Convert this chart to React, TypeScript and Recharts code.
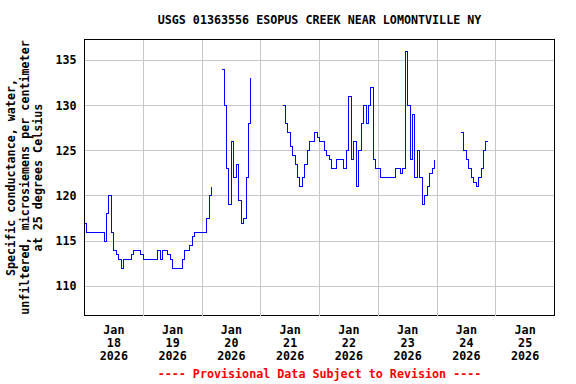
import React from "react";
import {
  LineChart,
  Line,
  XAxis,
  YAxis,
  CartesianGrid,
  ReferenceLine,
  ReferenceArea,
} from "recharts";

const title = "USGS 01363556 ESOPUS CREEK NEAR LOMONTVILLE NY";
const footnote = "---- Provisional Data Subject to Revision ----";
const yLabelLines = [
  "Specific conductance, water,",
  "unfiltered, microsiemens per centimeter",
  "at 25 degrees Celsius",
];
const monthLabel = "Jan";
const yearLabel = "2026";
const dayLabels = ["18", "19", "20", "21", "22", "23", "24", "25"];
const yTicks = [110, 115, 120, 125, 130, 135];
const yDomain: [number, number] = [106.77, 137.3];

// hourly readings, microsiemens/cm (null = no data)
const jan18 = [117, 116, 116, 116, 116, 116, 116, 116, 115, 118, 120, 116, 114, 113.5, 113, 112, 113, 113, 113, 113.5, 114, 114, 114, 113.5];
const jan19 = [113, 113, 113, 113, 113, 113, 114, 113, 114, 114, 113.5, 113, 112, 112, 112, 112, 113, 114, 114, 114.5, 115.5, 116, 116, 116];
const jan20 = [116, 116, 117.5, 120, 121, null, null, null, 134, 130, 123, 119, 126, 122, 123.5, 119.5, 117, 117.5, 122, 128, 133, null, null, null];
const jan21 = [null, null, null, null, null, null, null, null, null, 130, 128, 127, 125.5, 124.5, 123.5, 122, 121, 122, 123.5, 125, 126, 126, 127, 126.5];
const jan22 = [126, 126, 125, 124.5, 124, 123, 123, 124, 124, 124, 123, 125, 131, 124, 126, 121, 125, 128, 130, 128, 130, 132, 124, 123];
const jan23 = [123, 122, 122, 122, 122, 122, 122, 123, 123, 122.5, 123, 136, 130, 124, 129, 122, 125, 122, 119, 120, 121, 122.5, 123, 124];
const jan24 = [null, null, null, null, null, null, null, null, null, null, 127, 125, 124, 123, 122, 121.5, 121, 122, 123, 125, 126, 126, null, null];
const jan25 = [null, null, null, null, null, null, null, null, null, null, null, null, null, null, null, null, null, null, null, null, null, null, null, null];

const days = [jan18, jan19, jan20, jan21, jan22, jan23, jan24, jan25];

const data = days.flatMap((vals, d) => vals.map((v, h) => ({ hour: d * 24 + h, value: v })));
data.push({ hour: days.length * 24, value: null });

const midnights = days.slice(1).map((_, i) => (i + 1) * 24);
const noonTicks = dayLabels.map((_, i) => i * 24 + 12);

const font = "'DejaVu Sans Mono', monospace";
const fontSize = 11.7;

const XTick = (props: any) => {
  const { x, y, payload } = props;
  const i = Math.round((payload.value - 12) / 24);
  const common = { textAnchor: "middle" as const, fontFamily: font, fontSize, fontWeight: "bold", fill: "#000" };
  return (
    <g transform={`translate(${x},${y})`}>
      <text {...common} x={0} y={18.5}>{monthLabel}</text>
      <text {...common} x={0} y={31.5}>{dayLabels[i]}</text>
      <text {...common} x={0} y={44.5}>{yearLabel}</text>
    </g>
  );
};

const YLabel = () => {
  const cy = 177.5;
  const cols = [15, 28.5, 42];
  return (
    <g>
      {yLabelLines.map((line, i) => (
        <text
          key={i}
          x={cols[i]}
          y={cy}
          transform={`rotate(-90, ${cols[i]}, ${cy})`}
          textAnchor="middle"
          fontFamily={font}
          fontSize={fontSize}
          fontWeight="bold"
          fill="#000"
        >
          {line}
        </text>
      ))}
    </g>
  );
};

export default function App() {
  return (
    <div style={{ position: "absolute", left: 0, top: 0, width: 576, height: 384, background: "#fff" }}>
      <LineChart
        width={576}
        height={384}
        data={data}
        margin={{ top: 39.5, right: 21.5, bottom: 0, left: 0 }}
      >
        <CartesianGrid vertical={false} stroke="#c8c8c8" shapeRendering="crispEdges" />
        {midnights.map((m) => (
          <ReferenceLine key={m} x={m} stroke="#c8c8c8" shapeRendering="crispEdges" />
        ))}
        <XAxis
          dataKey="hour"
          type="number"
          domain={[0, days.length * 24]}
          ticks={noonTicks}
          interval={0}
          tick={<XTick />}
          tickLine={false}
          axisLine={false}
          tickSize={0}
          tickMargin={0}
          height={68.5}
        />
        <YAxis
          type="number"
          domain={yDomain}
          ticks={yTicks}
          allowDataOverflow
          interval={0}
          tickLine={false}
          axisLine={false}
          width={84.5}
          tick={{ fontFamily: font, fontSize, fontWeight: "bold", fill: "#000" }}
          label={{ content: () => <YLabel /> }}
        />
        <Line
          type="stepAfter"
          dataKey="value"
          stroke="#0000ff"
          strokeWidth={1}
          shapeRendering="crispEdges"
          dot={false}
          activeDot={false}
          connectNulls={false}
          isAnimationActive={false}
        />
        <ReferenceArea
          x1={0}
          x2={days.length * 24}
          y1={yDomain[0]}
          y2={yDomain[1]}
          fill="none"
          fillOpacity={0}
          stroke="#000"
          strokeWidth={1}
          shapeRendering="crispEdges"
        />
      </LineChart>
      <svg
        width={576}
        height={384}
        style={{ position: "absolute", left: 0, top: 0, pointerEvents: "none" }}
      >
        <text x={319.5} y={23.5} textAnchor="middle" fontFamily={font} fontSize={fontSize} fontWeight="bold" fill="#000">
          {title}
        </text>
        <text x={319.5} y={378} textAnchor="middle" fontFamily={font} fontSize={fontSize} fontWeight="bold" fill="#ff0000">
          {footnote}
        </text>
      </svg>
    </div>
  );
}
